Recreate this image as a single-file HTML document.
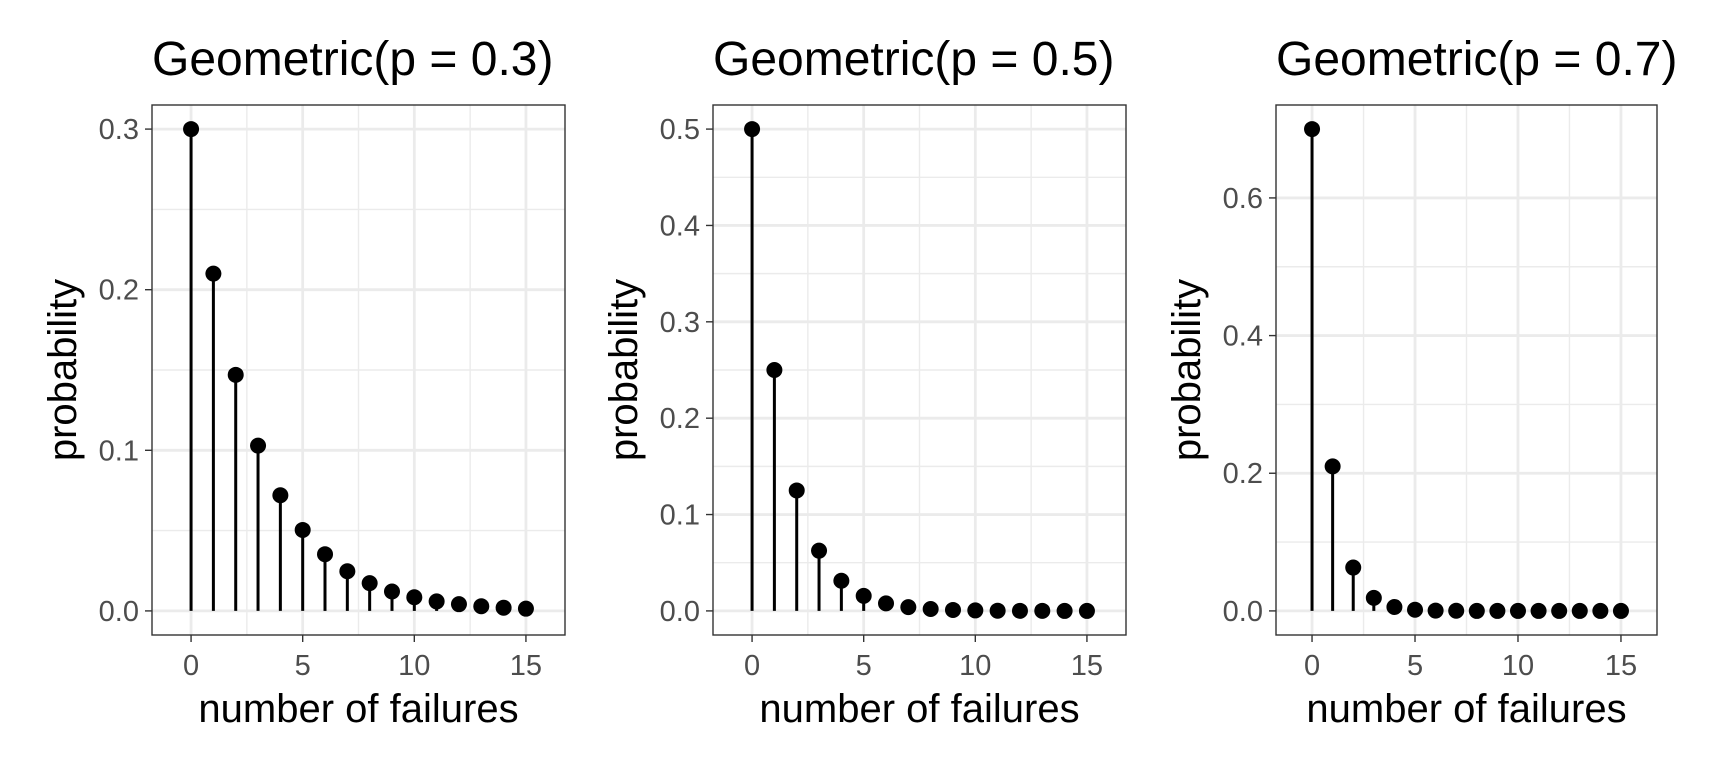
<!DOCTYPE html>
<html><head><meta charset="utf-8"><style>
html,body{margin:0;padding:0;background:#fff}
svg{display:block}
text{font-family:"Liberation Sans",Arial,sans-serif}
</style></head><body>
<svg id="chart" width="1728" height="768" viewBox="0 0 1728 768" xmlns="http://www.w3.org/2000/svg"></svg>
<script>
const categories = [0,1,2,3,4,5,6,7,8,9,10,11,12,13,14,15];
const probs03 = [0.3,0.21,0.147,0.1029,0.072,0.0504,0.0353,0.0247,0.0173,0.0121,0.0085,0.0059,0.0042,0.0029,0.0020,0.0014];
const probs05 = [0.5,0.25,0.125,0.0625,0.0313,0.0156,0.0078,0.0039,0.002,0.001,0.0005,0.0002,0.0001,0.0001,0,0];
const probs07 = [0.7,0.21,0.063,0.0189,0.0057,0.0017,0.0005,0.0002,0,0,0,0,0,0,0,0];
const titles = ["Geometric(p = 0.3)","Geometric(p = 0.5)","Geometric(p = 0.7)"];
const xTicks = [0,5,10,15];
const yTicks03 = [0,0.1,0.2,0.3];
const yTicks05 = [0,0.1,0.2,0.3,0.4,0.5];
const yTicks07 = [0,0.2,0.4,0.6];
const yMax03 = 0.3, yMax05 = 0.5, yMax07 = 0.7;

const NS = "http://www.w3.org/2000/svg";
const svg = document.getElementById('chart');
function mk(tag, attrs, parent){const e=document.createElementNS(NS,tag);for(const k in attrs)e.setAttribute(k,attrs[k]);(parent||svg).appendChild(e);return e;}

const panels = [
 {left:152,right:565,vals:probs03,ticks:yTicks03,max:yMax03,title:titles[0],id:'p03'},
 {left:713,right:1126,vals:probs05,ticks:yTicks05,max:yMax05,title:titles[1],id:'p05'},
 {left:1276,right:1657,vals:probs07,ticks:yTicks07,max:yMax07,title:titles[2],id:'p07'}
];
const plotTop=105, plotBottom=635;
panels.forEach(p=>{
  const g = mk('g',{});
  
  
  const xd0=categories[0]-1.75;
  const xd1=categories[categories.length-1]+1.75;
  const sx=v=>p.left+(v-xd0)/(xd1-xd0)*(p.right-p.left);
  const yd0=-0.05*p.max, yd1=1.05*p.max;
  const sy=v=>plotBottom-(v-yd0)/(yd1-yd0)*(plotBottom-plotTop);
  for(let i=0;i<xTicks.length-1;i++){const m=(xTicks[i]+xTicks[i+1])/2;const l=mk('line',{x1:sx(m),x2:sx(m),y1:plotTop,y2:plotBottom,stroke:'#ebebeb','stroke-width':1.4},g);}
  for(let i=0;i<p.ticks.length-1;i++){const m=(p.ticks[i]+p.ticks[i+1])/2;const l=mk('line',{x1:p.left,x2:p.right,y1:sy(m),y2:sy(m),stroke:'#ebebeb','stroke-width':1.4},g);}
  xTicks.forEach(t=>{const l=mk('line',{x1:sx(t),x2:sx(t),y1:plotTop,y2:plotBottom,stroke:'#ebebeb','stroke-width':2.8},g);});
  p.ticks.forEach(t=>{const l=mk('line',{x1:p.left,x2:p.right,y1:sy(t),y2:sy(t),stroke:'#ebebeb','stroke-width':2.8},g);});
  categories.forEach((c,i)=>{
    const v=p.vals[i];
    const s=mk('line',{x1:sx(c),x2:sx(c),y1:sy(0),y2:sy(v),stroke:'#000','stroke-width':3},g);
    
    
    const pt=mk('circle',{cx:sx(c),cy:sy(v),r:8,fill:'#000'},g);
    
    
  });
  const fr=mk('rect',{x:p.left,y:plotTop,width:p.right-p.left,height:plotBottom-plotTop,fill:'none',stroke:'#333','stroke-width':1.4},g);
  
  
  xTicks.forEach(t=>{
    mk('line',{x1:sx(t),x2:sx(t),y1:plotBottom,y2:plotBottom+7,stroke:'#333','stroke-width':1.4},g);
    const tx=mk('text',{x:sx(t),y:plotBottom+40,'text-anchor':'middle','font-size':29,fill:'#4d4d4d'},g);
    tx.textContent=t;
    
    
  });
  p.ticks.forEach(t=>{
    mk('line',{x1:p.left-7,x2:p.left,y1:sy(t),y2:sy(t),stroke:'#333','stroke-width':1.4},g);
    const tx=mk('text',{x:p.left-13,y:sy(t)+10,'text-anchor':'end','font-size':29,fill:'#4d4d4d'},g);
    tx.textContent=t.toFixed(1);
    
    
  });
  const tt=mk('text',{x:p.left,y:75,'font-size':48,fill:'#000'},g);
  tt.textContent=p.title;
  
  
  const xt=mk('text',{x:(p.left+p.right)/2,y:722,'text-anchor':'middle','font-size':40,fill:'#000'},g);
  xt.textContent='number of failures';
  
  
  const yx=p.left-76, yy=(plotTop+plotBottom)/2;
  const yt=mk('text',{x:yx,y:yy,'text-anchor':'middle','font-size':40,fill:'#000',transform:`rotate(-90 ${yx} ${yy})`},g);
  yt.textContent='probability';
  
  
});
</script>
</body></html>
